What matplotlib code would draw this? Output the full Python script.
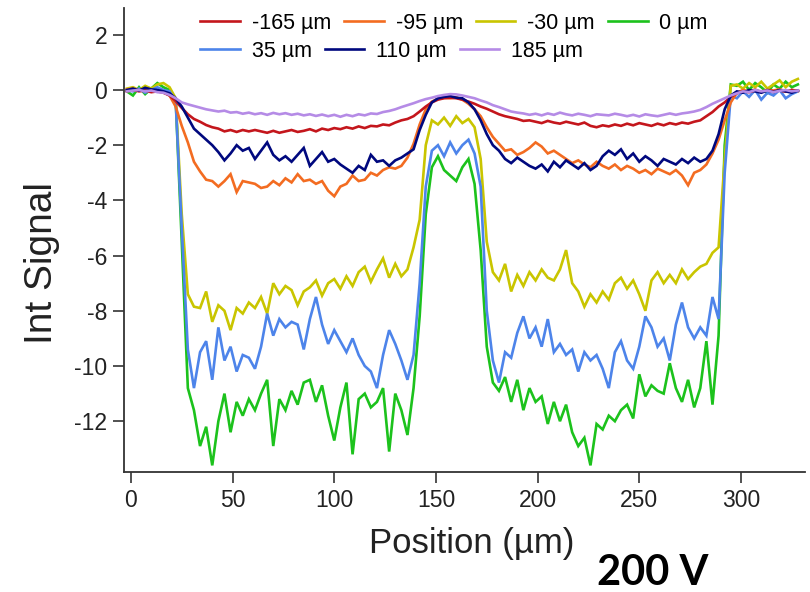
import numpy as np
import matplotlib
matplotlib.use('Agg')
import matplotlib.pyplot as plt

# positions along the scan (um), one reading every 3 um
position = np.arange(-2, 329, 3)

# integrated signal for each depth
sig_m165 = [-0.05, 0.0, -0.05, -0.02, -0.08, -0.05, -0.1, -0.2, -0.4, -0.65,
            -0.88, -1.05, -1.15, -1.27, -1.35, -1.4, -1.5, -1.45, -1.52, -1.45,
            -1.5, -1.45, -1.5, -1.55, -1.48, -1.55, -1.5, -1.45, -1.52, -1.48,
            -1.42, -1.5, -1.4, -1.45, -1.38, -1.42, -1.35, -1.4, -1.32, -1.38,
            -1.3, -1.32, -1.25, -1.28, -1.18, -1.1, -1.05, -0.95, -0.78, -0.6,
            -0.45, -0.35, -0.3, -0.28, -0.3, -0.35, -0.42, -0.5, -0.6, -0.68,
            -0.78, -0.88, -0.95, -1.0, -1.05, -1.12, -1.1, -1.15, -1.2, -1.12,
            -1.18, -1.22, -1.15, -1.2, -1.25, -1.18, -1.3, -1.35, -1.28, -1.32,
            -1.25, -1.3, -1.22, -1.28, -1.2, -1.25, -1.3, -1.22, -1.28, -1.2,
            -1.25, -1.18, -1.22, -1.15, -1.1, -0.95, -0.8, -0.6, -0.45, -0.25,
            -0.12, -0.05, -0.08, -0.02, -0.06, 0.0, -0.05, -0.02, -0.06, 0.0, -0.03]

sig_m95 = [0.02, 0.05, -0.02, 0.05, 0.0, -0.05, -0.08, -0.2, -0.6, -1.3,
           -1.9, -2.6, -2.95, -3.25, -3.3, -3.5, -3.3, -3.05, -3.7, -3.3,
           -3.35, -3.4, -3.55, -3.5, -3.3, -3.45, -3.2, -3.35, -3.05, -3.3,
           -3.25, -3.4, -3.3, -3.65, -3.85, -3.5, -3.4, -3.1, -3.3, -3.25,
           -3.0, -3.1, -2.9, -2.8, -2.85, -2.75, -2.45, -1.95, -1.25, -0.7,
           -0.42, -0.32, -0.28, -0.3, -0.27, -0.35, -0.5, -0.7, -0.95, -1.35,
           -1.7, -1.95, -2.2, -2.15, -2.35, -2.25, -2.1, -1.9, -2.05, -2.3,
           -2.2, -2.35, -2.5, -2.65, -2.55, -2.7, -2.8, -2.6, -2.75, -2.85,
           -2.7, -2.9, -2.75, -2.85, -3.0, -2.9, -3.05, -2.85, -2.95, -3.05,
           -2.9, -3.1, -3.45, -3.0, -2.9, -2.7, -2.3, -1.8, -1.1, -0.45,
           -0.1, 0.0, -0.05, 0.02, -0.08, 0.0, -0.02, 0.03, -0.05, 0.0, -0.03]

sig_m30 = [0.05, 0.1, 0.0, 0.15, 0.05, 0.2, 0.25, 0.1, -0.3, -4.5,
           -7.4, -7.85, -7.9, -7.3, -8.4, -7.8, -8.0, -8.7, -7.9, -8.1,
           -7.7, -7.9, -7.5, -8.1, -7.0, -7.4, -7.1, -7.25, -7.8, -7.3,
           -7.15, -6.9, -7.45, -7.0, -6.85, -7.2, -6.75, -7.1, -6.6, -6.4,
           -6.95, -6.5, -6.1, -6.8, -6.3, -6.75, -6.5, -5.7, -4.7, -2.0,
           -1.1, -1.25, -1.0, -1.3, -0.95, -1.2, -1.05, -1.35, -2.5, -5.5,
           -6.6, -6.9, -6.3, -7.3, -6.7, -7.1, -6.6, -6.9, -6.5, -6.8,
           -6.9, -6.5, -5.8, -7.0, -7.3, -7.85, -7.4, -7.7, -7.3, -7.6,
           -7.0, -6.8, -7.2, -6.9, -7.4, -8.0, -6.9, -6.6, -7.0, -6.7,
           -7.0, -6.5, -6.85, -6.6, -6.4, -6.3, -5.9, -5.7, -2.5, 0.15,
           0.2, 0.05, 0.25, 0.1, 0.3, 0.05, 0.2, 0.35, 0.1, 0.3, 0.4]

sig_0 = [-0.05, -0.2, 0.1, -0.15, 0.05, 0.25, 0.1, 0.0, -0.3, -5.5,
         -10.8, -11.6, -12.9, -12.2, -13.6, -12.0, -11.0, -12.4, -11.3, -11.8,
         -11.2, -11.6, -11.0, -10.5, -12.9, -11.2, -11.6, -10.9, -11.4, -10.6,
         -10.5, -11.3, -10.7, -11.8, -12.7, -11.5, -10.6, -13.2, -11.2, -11.0,
         -11.5, -11.3, -10.8, -13.1, -11.0, -11.6, -12.5, -10.8, -8.2, -4.5,
         -2.8, -2.4, -2.9, -3.1, -3.3, -2.8, -2.5, -3.4, -5.8, -9.3,
         -10.6, -10.9, -10.4, -11.3, -10.5, -11.6, -10.8, -11.3, -11.1, -12.1,
         -11.3, -12.0, -11.4, -12.4, -12.9, -12.6, -13.6, -12.1, -12.3, -11.8,
         -12.0, -11.6, -11.4, -11.9, -10.3, -11.1, -10.7, -10.9, -11.0, -9.9,
         -10.8, -11.3, -10.5, -11.5, -10.8, -9.1, -11.4, -8.9, -2.0, 0.2,
         0.15, 0.3, 0.0, 0.25, 0.1, -0.1, 0.2, 0.05, 0.3, 0.1, 0.2]

sig_35 = [0.0, -0.05, 0.05, -0.1, 0.0, 0.1, 0.0, -0.05, -0.4, -5.0,
          -9.4, -10.8, -9.5, -9.1, -10.5, -8.6, -9.8, -9.3, -10.2, -9.6,
          -9.7, -10.1, -9.3, -8.1, -8.9, -8.3, -8.6, -8.4, -8.5, -9.4,
          -8.3, -7.5, -8.5, -9.2, -8.7, -9.1, -9.5, -9.0, -9.6, -10.0,
          -10.2, -10.8, -9.6, -8.7, -9.2, -9.8, -10.5, -9.6, -7.0, -3.5,
          -2.2, -2.0, -2.4, -1.9, -2.3, -2.0, -1.8, -2.3, -3.5, -8.0,
          -9.8, -10.6, -9.5, -9.7, -8.8, -8.2, -9.0, -8.6, -9.3, -8.3,
          -9.5, -9.2, -9.6, -9.4, -10.2, -9.5, -9.8, -9.6, -10.1, -10.8,
          -9.5, -9.1, -9.8, -10.1, -9.3, -8.2, -8.6, -9.3, -9.0, -9.8,
          -8.5, -7.7, -8.6, -9.0, -8.6, -8.9, -7.5, -8.3, -3.0, -0.2,
          -0.3, -0.05, -0.25, 0.0, -0.35, -0.1, -0.2, 0.0, -0.3, -0.15, -0.05]

sig_110 = [0.0, 0.05, -0.02, 0.08, 0.02, 0.0, -0.05, -0.12, -0.3, -0.6,
           -1.0, -1.4, -1.6, -1.8, -2.0, -2.25, -2.55, -2.3, -2.0, -2.2,
           -2.1, -2.5, -2.2, -1.9, -2.35, -2.55, -2.4, -2.6, -2.35, -2.1,
           -2.75, -2.5, -2.25, -2.6, -2.5, -2.7, -2.85, -3.0, -2.75, -2.9,
           -2.35, -2.6, -2.55, -2.75, -2.55, -2.45, -2.3, -2.15, -1.45, -0.9,
           -0.45, -0.3, -0.25, -0.22, -0.28, -0.3, -0.45, -0.7, -1.1, -1.6,
           -2.0, -2.2, -2.5, -2.65, -2.45, -2.6, -2.75, -2.85, -2.7, -2.95,
           -2.6, -2.8, -2.55, -2.7, -2.85, -2.65, -2.9, -2.75, -2.4, -2.2,
           -2.35, -2.15, -2.5, -2.3, -2.6, -2.4, -2.55, -2.75, -2.5, -2.6,
           -2.7, -2.5, -2.65, -2.45, -2.6, -2.5, -2.2, -1.6, -0.7, -0.2,
           -0.05, -0.1, 0.0, -0.05, -0.1, -0.02, -0.08, 0.0, -0.05, -0.1, -0.02]

sig_185 = [-0.05, -0.02, 0.0, -0.05, -0.02, -0.08, -0.1, -0.18, -0.3, -0.45,
           -0.52, -0.58, -0.64, -0.7, -0.74, -0.78, -0.75, -0.82, -0.8, -0.86,
           -0.82, -0.88, -0.84, -0.9, -0.83, -0.88, -0.84, -0.9, -0.86, -0.92,
           -0.88, -0.94, -0.89, -0.95, -0.9, -0.97, -0.9, -0.95, -0.88, -0.92,
           -0.85, -0.87, -0.8, -0.76, -0.7, -0.62, -0.55, -0.48, -0.4, -0.33,
           -0.28, -0.22, -0.18, -0.15, -0.16, -0.2, -0.25, -0.3, -0.38, -0.45,
           -0.55, -0.62, -0.7, -0.78, -0.82, -0.85, -0.9, -0.86, -0.92, -0.85,
           -0.9, -0.82, -0.88, -0.92, -0.86, -0.9, -0.95, -0.88, -0.9, -0.92,
           -0.86, -0.9, -0.95, -0.9, -0.96, -0.88, -0.92, -0.95, -0.9, -0.85,
           -0.9, -0.85, -0.82, -0.78, -0.72, -0.62, -0.5, -0.4, -0.3, -0.2,
           -0.12, -0.05, -0.08, 0.0, -0.05, -0.02, -0.08, -0.03, 0.0, -0.05, -0.02]

labels = ['-165 µm', '-95 µm', '-30 µm', '0 µm', '35 µm', '110 µm', '185 µm']
colours = ['#c4161c', '#f36c21', '#c9c500', '#1cc21c', '#4d84ea', '#00087e', '#b58be6']
series = [sig_m165, sig_m95, sig_m30, sig_0, sig_35, sig_110, sig_185]

# draw order so the lines overlap as in the original
draw_order = [3, 2, 4, 1, 0, 5, 6]

plt.rcParams['font.family'] = ['Liberation Sans', 'DejaVu Sans']
plt.rcParams['axes.unicode_minus'] = False

fig = plt.figure(figsize=(8.1, 5.92), dpi=100)
ax = fig.add_axes([124 / 810, 1 - 472 / 592, 681 / 810, 464 / 592])

handles = {}
for i in draw_order:
    line, = ax.plot(position, series[i], color=colours[i], linewidth=1.9,
                    solid_joinstyle='miter')
    handles[i] = line

ax.set_xlim(-3.4, 331.5)
ax.set_ylim(-13.84, 2.97)
ax.set_xticks(np.arange(0, 301, 50))
ax.set_yticks(np.arange(-12, 3, 2))

for side in ['top', 'right']:
    ax.spines[side].set_visible(False)
for side in ['left', 'bottom']:
    ax.spines[side].set_color('#333333')
    ax.spines[side].set_linewidth(1.3)
ax.tick_params(direction='out', length=8, width=1.2, color='#333333',
               labelsize=16.5, labelcolor='#222222', pad=4)

ax.set_xlabel('Position (µm)', fontsize=25, color='#222222')
ax.xaxis.set_label_coords(0.51, -0.118)
ax.set_ylabel('Int Signal', fontsize=28, color='#222222', va='center')
ax.yaxis.set_label_coords(-0.12, 0.45)

# the legend is two free-flowing rows in the original
row1 = ax.legend([handles[i] for i in range(4)], labels[:4], ncols=4,
                 loc='upper left', bbox_to_anchor=(200 / 810, 1 - 13 / 592),
                 bbox_transform=fig.transFigure, frameon=False, fontsize=15.5,
                 handlelength=1.85, handletextpad=0.55, columnspacing=0.6,
                 borderpad=0, borderaxespad=0)
ax.add_artist(row1)
ax.legend([handles[i] for i in range(4, 7)], labels[4:], ncols=3,
          loc='upper left', bbox_to_anchor=(200 / 810, 1 - 41 / 592),
          bbox_transform=fig.transFigure, frameon=False, fontsize=15.5,
          handlelength=1.85, handletextpad=0.55, columnspacing=0.6,
          borderpad=0, borderaxespad=0)

fig.text(597 / 810, 1 - 585 / 592, '200 V', fontsize=30, fontweight='bold',
         family=['Lato', 'DejaVu Sans'], ha='left', va='baseline', color='black')

fig.savefig('out.png', dpi=100)
